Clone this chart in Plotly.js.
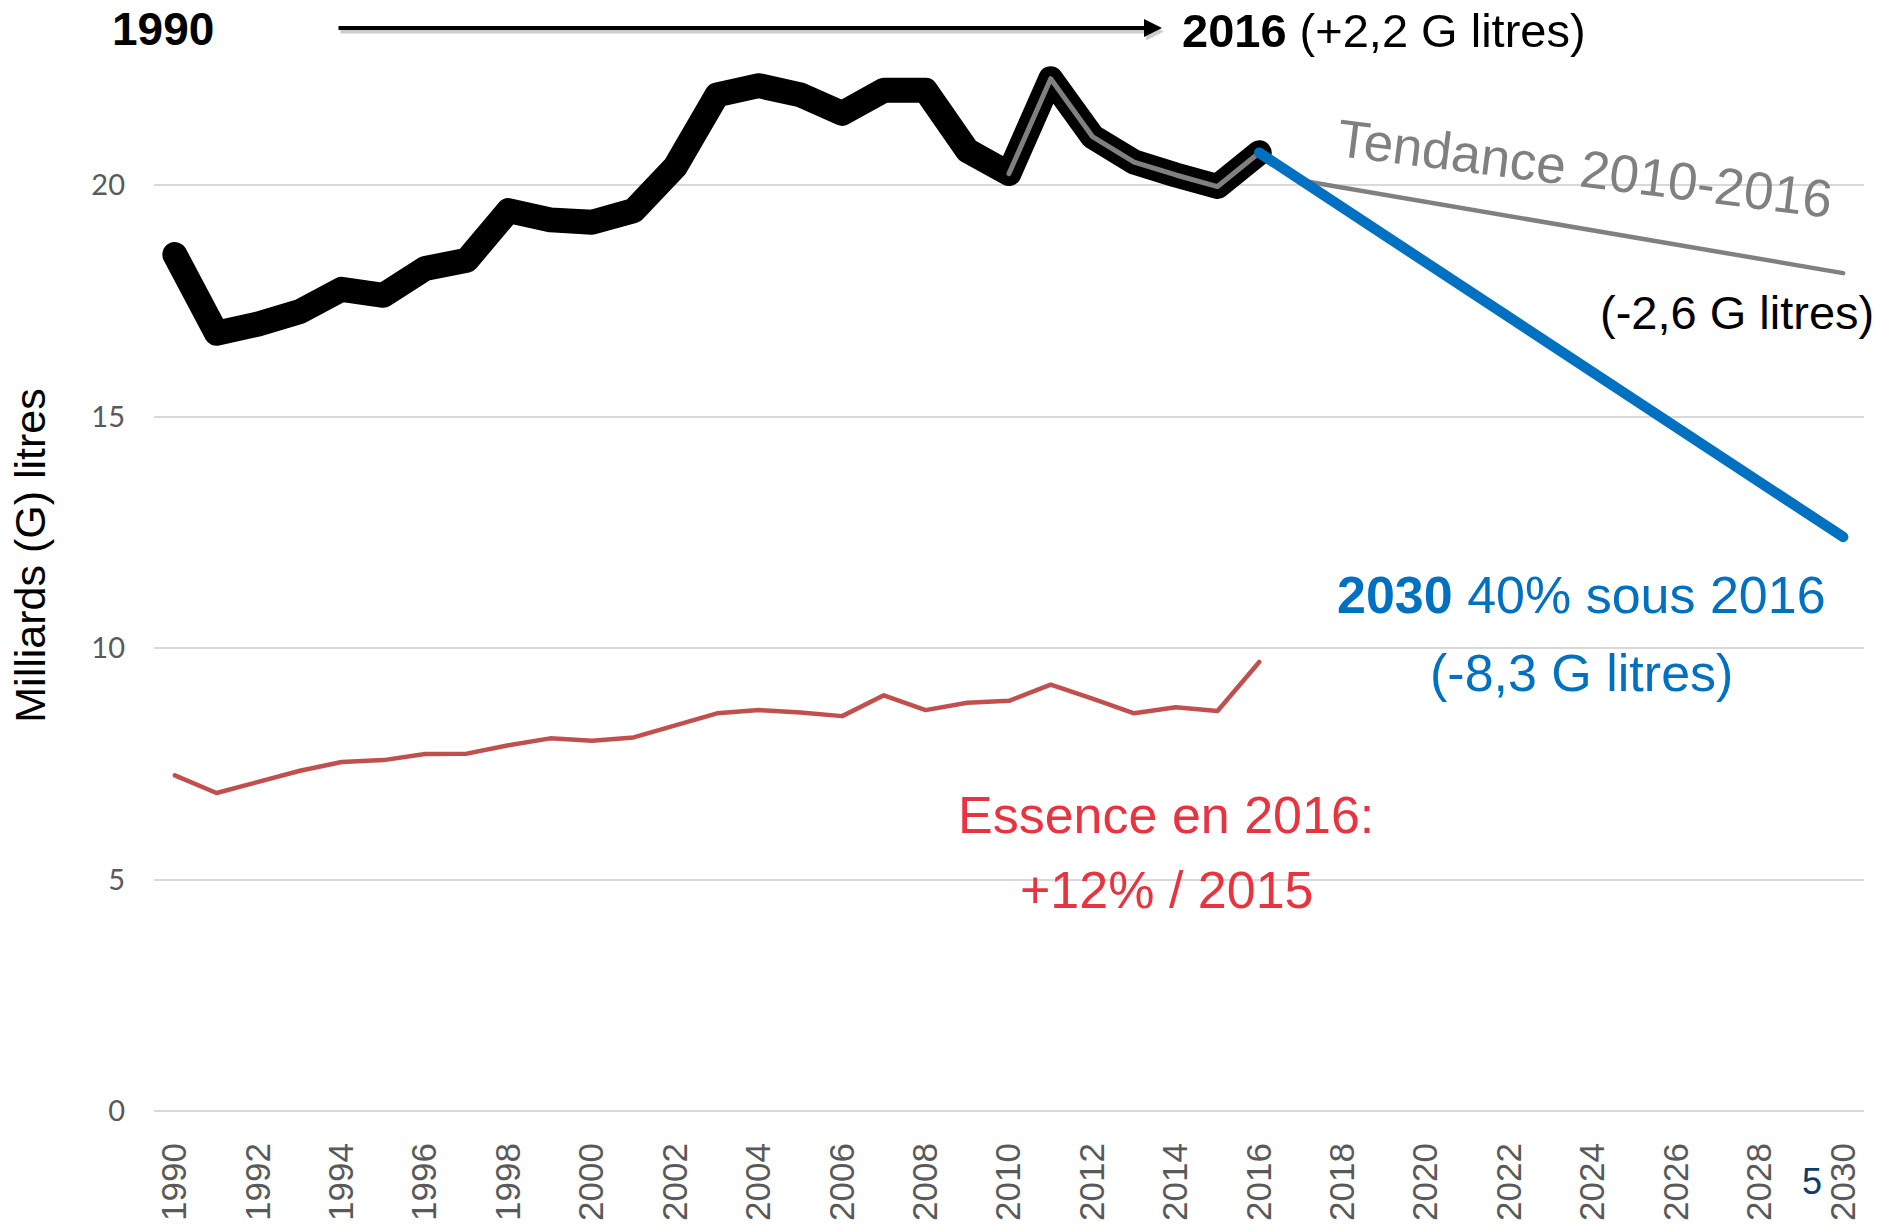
<!DOCTYPE html>
<html>
<head>
<meta charset="utf-8">
<script src="https://cdn.plot.ly/plotly-3.0.1.min.js"></script>
<style>
  html, body { margin: 0; padding: 0; background: #ffffff; }
  #chart { width: 1884px; height: 1225px; }
  .js-line { stroke-linejoin: round; stroke-linecap: round; }
</style>
</head>
<body>
<div id="chart"></div>
<script>
// ---- Data (G litres) ----
const years = [1990, 1991, 1992, 1993, 1994, 1995, 1996, 1997, 1998, 1999,
               2000, 2001, 2002, 2003, 2004, 2005, 2006, 2007, 2008, 2009,
               2010, 2011, 2012, 2013, 2014, 2015, 2016];
const totalLitres = [18.5, 16.8, 17.0, 17.27, 17.75, 17.62, 18.2, 18.38, 19.45, 19.25,
                     19.2, 19.45, 20.4, 21.95, 22.15, 21.95, 21.55, 22.05, 22.05, 20.75,
                     20.25, 22.3, 21.05, 20.5, 20.22, 19.97, 20.7];
const essenceLitres = [7.25, 6.87, 7.11, 7.35, 7.54, 7.58, 7.71, 7.72, 7.9, 8.05,
                       8.0, 8.07, 8.33, 8.59, 8.66, 8.61, 8.53, 8.98, 8.66, 8.82,
                       8.86, 9.21, 8.91, 8.59, 8.72, 8.64, 9.7];
const trendYears = [2017, 2030];
const trendLitres = [20.1, 18.1];
const targetYears = [2016, 2030];
const targetLitres = [20.7, 12.4];
const highlightFrom = 2010;
const xTickVals = [1990, 1992, 1994, 1996, 1998, 2000, 2002, 2004, 2006, 2008, 2010,
                   2012, 2014, 2016, 2018, 2020, 2022, 2024, 2026, 2028, 2030];
const yTickVals = [0, 5, 10, 15, 20];

// ---- Geometry helpers (pixel -> paper) ----
const W = 1884, H = 1225;
const M = { l: 154, r: 20, t: 0, b: 114.3 };
const PW = W - M.l - M.r, PH = H - M.t - M.b;
const P = px => (px - M.l) / PW;
const Q = py => (M.t + PH - py) / PH;

const hlYears = years.filter(y => y >= highlightFrom);
const hlVals = totalLitres.filter((v, i) => years[i] >= highlightFrom);

const traces = [
  { x: years, y: totalLitres, mode: 'lines', name: 'Total',
    line: { color: '#000000', width: 25 }, hoverinfo: 'skip' },
  { x: years, y: essenceLitres, mode: 'lines', name: 'Essence',
    line: { color: '#C0504D', width: 4.5 }, hoverinfo: 'skip' },
  { x: trendYears, y: trendLitres, mode: 'lines', name: 'Tendance 2010-2016',
    line: { color: '#808080', width: 4.5 }, hoverinfo: 'skip' },
  { x: hlYears, y: hlVals, mode: 'lines', name: '2010-2016',
    line: { color: '#808080', width: 5 }, hoverinfo: 'skip' },
  { x: targetYears, y: targetLitres, mode: 'lines', name: 'Cible 2030',
    line: { color: '#0070C0', width: 10.5 }, hoverinfo: 'skip' }
];

const baseFont = 'Liberation Sans, Arial, sans-serif';

const annotations = [
  { xref: 'paper', yref: 'paper', x: P(163), y: Q(29), text: '<b>1990</b>',
    showarrow: false, xanchor: 'center', yanchor: 'middle',
    font: { family: baseFont, size: 46, color: '#000000' } },
  // arrow shadow
  { xref: 'paper', yref: 'paper', x: P(1164), y: Q(31.5), ax: -825, ay: 0,
    axref: 'pixel', ayref: 'pixel', text: '', showarrow: true, arrowhead: 2,
    arrowsize: 0.9, arrowwidth: 4, arrowcolor: 'rgba(0,0,0,0.2)' },
  { xref: 'paper', yref: 'paper', x: P(1162), y: Q(28), ax: -825, ay: 0,
    axref: 'pixel', ayref: 'pixel', text: '', showarrow: true, arrowhead: 2,
    arrowsize: 0.9, arrowwidth: 4, arrowcolor: '#000000' },
  { xref: 'paper', yref: 'paper', x: P(1180), y: Q(30), text: '<b>2016</b> (+2,2 G litres)',
    showarrow: false, xanchor: 'left', yanchor: 'middle',
    font: { family: baseFont, size: 47, color: '#000000' } },
  { xref: 'paper', yref: 'paper', x: P(1585), y: Q(168), text: 'Tendance 2010-2016',
    showarrow: false, xanchor: 'center', yanchor: 'middle', textangle: 7.2,
    font: { family: baseFont, size: 53, color: '#808080' } },
  { xref: 'paper', yref: 'paper', x: P(1876), y: Q(312), text: '(-2,6 G litres)',
    showarrow: false, xanchor: 'right', yanchor: 'middle',
    font: { family: baseFont, size: 47, color: '#000000' } },
  { xref: 'paper', yref: 'paper', x: P(1581), y: Q(595), text: '<b>2030</b> 40% sous 2016',
    showarrow: false, xanchor: 'center', yanchor: 'middle',
    font: { family: baseFont, size: 52, color: '#0070C0' } },
  { xref: 'paper', yref: 'paper', x: P(1581), y: Q(673), text: '(-8,3 G litres)',
    showarrow: false, xanchor: 'center', yanchor: 'middle',
    font: { family: baseFont, size: 52, color: '#0070C0' } },
  { xref: 'paper', yref: 'paper', x: P(1166), y: Q(815), text: 'Essence en 2016:',
    showarrow: false, xanchor: 'center', yanchor: 'middle',
    font: { family: baseFont, size: 52, color: '#E8343F' } },
  { xref: 'paper', yref: 'paper', x: P(1166), y: Q(890), text: '+12% / 2015',
    showarrow: false, xanchor: 'center', yanchor: 'middle',
    font: { family: baseFont, size: 52, color: '#E8343F' } },
  { xref: 'paper', yref: 'paper', x: P(1812), y: Q(1181), text: '5',
    showarrow: false, xanchor: 'center', yanchor: 'middle',
    font: { family: baseFont, size: 36, color: '#0B3C6E' } }
];

// white boxes (behind traces, above gridlines) where text boxes hide the grid
const shapes = [
  { type: 'rect', xref: 'paper', yref: 'paper', layer: 'between',
    x0: P(1310), x1: P(1870), y0: Q(191), y1: Q(179),
    fillcolor: '#ffffff', line: { width: 0 } },
  { type: 'rect', xref: 'paper', yref: 'paper', layer: 'between',
    x0: P(1286), x1: P(1870), y0: Q(654), y1: Q(642),
    fillcolor: '#ffffff', line: { width: 0 } },
  { type: 'rect', xref: 'paper', yref: 'paper', layer: 'between',
    x0: P(901), x1: P(1432), y0: Q(885), y1: Q(873),
    fillcolor: '#ffffff', line: { width: 0 } }
];

const layout = {
  width: W, height: H,
  margin: M,
  paper_bgcolor: '#ffffff', plot_bgcolor: '#ffffff',
  showlegend: false,
  font: { family: baseFont },
  xaxis: {
    range: [1989.5, 2030.5],
    tickvals: xTickVals,
    tickangle: -90,
    ticklabelstandoff: 24,
    tickfont: { family: baseFont, size: 35, color: '#595959' },
    showgrid: false, zeroline: false, showline: false, ticks: '',
    automargin: false
  },
  yaxis: {
    range: [0, 24],
    tickvals: yTickVals,
    ticklabelstandoff: 28,
    tickfont: { family: 'Lato, Carlito, sans-serif', size: 29, color: '#595959' },
    showgrid: true, gridcolor: '#D9D9D9', gridwidth: 2,
    zeroline: true, zerolinecolor: '#D9D9D9', zerolinewidth: 2,
    showline: false, ticks: '',
    automargin: true,
    title: { text: 'Milliards (G) litres', standoff: 32,
             font: { family: baseFont, size: 43, color: '#000000' } }
  },
  annotations: annotations,
  shapes: shapes
};

Plotly.newPlot('chart', traces, layout, { displayModeBar: false, staticPlot: true });
</script>
</body>
</html>
